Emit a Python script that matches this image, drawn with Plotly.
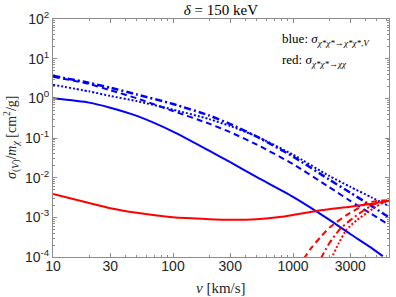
import plotly.graph_objects as go

# ---- data ----
v_blue = [10, 20, 30, 50, 100, 200, 300, 500, 1000, 2000, 3000, 4500, 6300]
blue_solid_v = [10, 20, 30, 50, 100, 200, 300, 500, 1000, 2000, 3000, 4500, 5600]
blue_solid = [1.0, 0.78, 0.58, 0.36, 0.145, 0.048, 0.0245, 0.0103, 3.3e-3, 8.8e-4, 3.8e-4, 1.7e-4, 1.05e-4]
blue_dashdot = [3.7, 2.45, 1.85, 1.25, 0.72, 0.37, 0.225, 0.108, 0.034, 9.0e-3, 4.2e-3, 1.95e-3, 1.0e-3]
blue_dotted = [2.2, 1.5, 1.15, 0.85, 0.52, 0.30, 0.20, 0.109, 0.038, 0.0111, 5.9e-3, 3.2e-3, 1.93e-3]
blue_dashed = [3.5, 2.3, 1.6, 1.0, 0.48, 0.23, 0.14, 0.068, 0.022, 5.8e-3, 2.6e-3, 1.22e-3, 6.5e-4]

red_solid_v = [10, 20, 30, 50, 100, 200, 300, 500, 800, 1000, 1700, 3000, 4500, 6300]
red_solid = [3.9e-3, 2.3e-3, 1.7e-3, 1.3e-3, 1.0e-3, 9.0e-4, 8.7e-4, 9.0e-4, 1.03e-3, 1.15e-3, 1.5e-3, 1.85e-3, 2.2e-3, 2.6e-3]
red_dashed_v = [1230, 1400, 1700, 2040, 2800, 3500, 4150, 5000, 6300]
red_dashed = [9.0e-5, 1.6e-4, 3.2e-4, 5.7e-4, 1.14e-3, 1.7e-3, 2.3e-3, 2.6e-3, 2.7e-3]
red_dashdot_v = [1700, 2000, 2440, 3000, 3630, 4400, 5000, 6300]
red_dashdot = [9.0e-5, 2.2e-4, 4.9e-4, 8.5e-4, 1.3e-3, 1.9e-3, 2.3e-3, 2.65e-3]
red_dotted_v = [2080, 2400, 2800, 3400, 4150, 4900, 5600, 6300]
red_dotted = [9.0e-5, 2.2e-4, 4.9e-4, 8.5e-4, 1.3e-3, 1.85e-3, 2.3e-3, 2.6e-3]

x_ticks = [10, 30, 100, 300, 1000, 3000]
x_ticktext = ["10", "30", "100", "300", "1000", "3000"]
y_ticks = [1e-4, 1e-3, 1e-2, 1e-1, 1, 10, 100]
y_ticktext = ["10<sup>-4</sup>", "10<sup>-3</sup>", "10<sup>-2</sup>", "10<sup>-1</sup>",
              "10<sup>0</sup>", "10<sup>1</sup>", "10<sup>2</sup>"]

BLUE = "#0000ff"
RED = "#ff0000"

fig = go.Figure()

def add(x, y, color, dash, width=2):
    fig.add_trace(go.Scatter(x=x, y=y, mode="lines",
                             line=dict(color=color, width=width, dash=dash, shape="spline", smoothing=0.6),
                             showlegend=False, hoverinfo="skip"))

add(v_blue, blue_dashed, BLUE, "6px,4px")
add(v_blue, blue_dotted, BLUE, "2px,2px")
add(v_blue, blue_dashdot, BLUE, "7px,3px,2px,3px", 2.5)
add(blue_solid_v, blue_solid, BLUE, "solid")
add(red_solid_v, red_solid, RED, "solid")
add(red_dashed_v, red_dashed, RED, "6px,4px")
add(red_dashdot_v, red_dashdot, RED, "7px,3px,2px,3px")
add(red_dotted_v, red_dotted, RED, "2px,2px")

serif = "Liberation Serif, DejaVu Serif, serif"
sans = "Liberation Sans, Arial, sans-serif"
axcol = "#8c8c8c"

L, R, T, B = 53, 7, 19, 40
pw, ph = 396 - L - R, 297 - T - B

def px2paper(px, py):
    return (px - L) / pw, 1 - (py - T) / ph

annots = []
for text, (px, py), size in [
    ("blue: <i>σ</i><sub><i>χ*χ*</i>→<i>χ*χ*</i>,<i>V</i></sub>", (280, 39), 13),
    ("red: <i>σ</i><sub><i>χ*χ*</i>→<i>χχ</i></sub>", (280, 60), 13),
]:
    ax_, ay_ = px2paper(px, py)
    annots.append(dict(text=text, x=ax_, y=ay_, xref="paper", yref="paper", xanchor="left",
                       yanchor="middle", showarrow=False,
                       font=dict(family=serif, size=size, color="black")))

# x-axis title
xt, yt = px2paper(221, 288)
annots.append(dict(text="<i>v</i> [km/s]", x=xt, y=yt, xref="paper", yref="paper",
                   xanchor="center", yanchor="middle", showarrow=False,
                   font=dict(family=serif, size=15, color="#262626")))
# y-axis title
xt, yt = px2paper(11, 138)
annots.append(dict(text="<i>σ</i><sub>(<i>V</i>)</sub>/<i>m</i><sub><i>χ</i></sub> [cm<sup>2</sup>/g]",
                   x=xt, y=yt, xref="paper", yref="paper", textangle=-90,
                   xanchor="center", yanchor="middle", showarrow=False,
                   font=dict(family=serif, size=14, color="#262626")))

fig.update_layout(
    width=396, height=297,
    margin=dict(l=L, r=R, t=T, b=B, autoexpand=False),
    paper_bgcolor="white", plot_bgcolor="white",
    title=dict(text="<i>δ</i> = 150 keV", x=0.558, xanchor="center", y=0.985, yanchor="top",
               font=dict(family=serif, size=15, color="black")),
    xaxis=dict(type="log", range=[1, 3.8], tickvals=x_ticks, ticktext=x_ticktext,
               automargin=False,
               ticks="inside", ticklen=4, tickcolor=axcol, showline=True, linecolor=axcol,
               linewidth=1, mirror="ticks", showgrid=False, zeroline=False,
               ticklabelstandoff=-4,
               tickfont=dict(family=sans, size=14, color="#262626"),
               minor=dict(ticks="inside", ticklen=2, tickcolor=axcol, dtick="D1", showgrid=False)),
    yaxis=dict(type="log", range=[-4, 2], tickvals=y_ticks, ticktext=y_ticktext,
               automargin=False,
               ticks="inside", ticklen=4, tickcolor=axcol, showline=True, linecolor=axcol,
               linewidth=1, mirror="ticks", showgrid=False, zeroline=False,
               tickfont=dict(family=sans, size=14, color="#262626"),
               minor=dict(ticks="inside", ticklen=2, tickcolor=axcol, dtick="D1", showgrid=False)),
    annotations=annots,
)

fig.write_html("out.html", config={"displayModeBar": False, "staticPlot": True},
               post_script="document.body.style.margin='0';document.body.style.overflow='hidden';")
